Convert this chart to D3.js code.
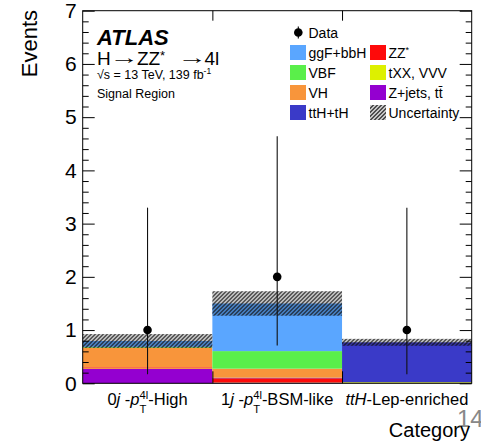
<!DOCTYPE html>
<html>
<head>
<meta charset="utf-8">
<script src="https://cdn.jsdelivr.net/npm/d3@7"></script>
<style>
  body { margin: 0; background: #fff; }
  svg text { font-family: "Liberation Sans", Arial, sans-serif; }
</style>
</head>
<body>
<div id="chart"></div>
<script>
// 类别与各过程的事件数 (自下而上堆叠)
const categories = ['0j-pT4l-High', '1j-pT4l-BSM-like', 'ttH-Lep-enriched'];
const zjets = [0.27, 0.01, 0.0];
const txx = [0.01, 0.005, 0.02];
const zz = [0.02, 0.08, 0.0];
const tth = [0.0, 0.01, 0.75];
const vh = [0.37, 0.17, 0.0];
const vbf = [0.015, 0.33, 0.0];
const ggf = [0.11, 0.895, 0.0];
const uncert = [0.13, 0.23, 0.065];
const dataCounts = [1, 2, 1];
const dataErrLo = [0.83, 1.29, 0.83];
const dataErrHi = [2.30, 2.64, 2.30];
const yTicks = [0, 1, 2, 3, 4, 5, 6, 7];

const processes = [
    {key: 'zjets', label: 'Z+jets, tt̄', values: zjets, color: '#9400d0'},
    {key: 'txx', label: 'tXX, VVV', values: txx, color: '#ddf000'},
    {key: 'zz', label: 'ZZ*', values: zz, color: '#fe0a0a'},
    {key: 'tth', label: 'ttH+tH', values: tth, color: '#3a3ac8'},
    {key: 'vh', label: 'VH', values: vh, color: '#f8953b'},
    {key: 'vbf', label: 'VBF', values: vbf, color: '#5aef4a'},
    {key: 'ggf', label: 'ggF+bbH', values: ggf, color: '#5aa6ff'}
];

// 画布设置
const W = 481, H = 444;
const margin = {top: 10.7, right: 9.3, bottom: 60.7, left: 82.7};
const width = W - margin.left - margin.right;
const height = H - margin.top - margin.bottom;

const root = d3.select('#chart').append('svg').attr('width', W).attr('height', H);
const defs = root.append('defs');
const pat = defs.append('pattern').attr('id', 'hatch').attr('patternUnits', 'userSpaceOnUse')
    .attr('width', 4).attr('height', 4);
pat.append('path').attr('d', 'M-1,1 l2,-2 M0,4 l4,-4 M3,5 l2,-2')
    .attr('stroke', '#111').attr('stroke-width', 1.4);

const svg = root.append('g').attr('transform', 'translate(' + margin.left + ',' + margin.top + ')');

// 比例尺
const xScale = d3.scaleBand().domain(categories).range([0, width]).padding(0);
const xEdge = d3.scaleLinear().domain([0, categories.length]).range([0, width]);
const yScale = d3.scaleLinear().domain([0, 7]).range([height, 0]);

// 堆叠
const table = categories.map(function (c, i) {
    const row = {cat: c};
    processes.forEach(function (p) { row[p.key] = p.values[i]; });
    return row;
});
const stack = d3.stack().keys(processes.map(function (p) { return p.key; }));
const layers = stack(table);

svg.selectAll('.layer').data(layers).enter().append('g')
    .attr('fill', function (d, i) { return processes[i].color; })
    .selectAll('rect').data(function (d) { return d; }).enter().append('rect')
    .attr('x', function (d) { return xScale(d.data.cat); })
    .attr('width', xScale.bandwidth())
    .attr('y', function (d) { return yScale(d[1]); })
    .attr('height', function (d) { return yScale(d[0]) - yScale(d[1]); });

// 不确定性阴影
const totals = table.map(function (r) {
    return d3.sum(processes, function (p) { return r[p.key]; });
});
svg.append('g').selectAll('rect').data(categories).enter().append('rect')
    .attr('x', function (d) { return xScale(d); })
    .attr('width', xScale.bandwidth())
    .attr('y', function (d, i) { return yScale(totals[i] + uncert[i]); })
    .attr('height', function (d, i) { return yScale(totals[i] - uncert[i]) - yScale(totals[i] + uncert[i]); })
    .attr('fill', 'url(#hatch)');

// 数据点
const pts = svg.append('g').selectAll('g').data(categories).enter().append('g');
pts.append('line')
    .attr('x1', function (d) { return xScale(d) + xScale.bandwidth() / 2; })
    .attr('x2', function (d) { return xScale(d) + xScale.bandwidth() / 2; })
    .attr('y1', function (d, i) { return yScale(dataCounts[i] - dataErrLo[i]); })
    .attr('y2', function (d, i) { return yScale(dataCounts[i] + dataErrHi[i]); })
    .attr('stroke', '#111').attr('stroke-width', 1.1);
pts.append('circle')
    .attr('cx', function (d) { return xScale(d) + xScale.bandwidth() / 2; })
    .attr('cy', function (d, i) { return yScale(dataCounts[i]); })
    .attr('r', 4.3).attr('fill', '#000');

// 坐标轴
const minor = d3.range(0, 7.001, 0.2).filter(function (v) { return Math.abs(v - Math.round(v)) > 0.01; });
svg.append('g').call(d3.axisLeft(yScale).tickValues(yTicks).tickFormat(d3.format('d'))
    .tickSizeInner(-12).tickSizeOuter(0).tickPadding(6))
    .call(function (g) { g.select('.domain').remove(); })
    .selectAll('text').style('font-size', '21px').attr('fill', '#000');
svg.append('g').call(d3.axisLeft(yScale).tickValues(minor).tickFormat('').tickSizeInner(-6).tickSizeOuter(0))
    .call(function (g) { g.select('.domain').remove(); });
svg.append('g').attr('transform', 'translate(' + width + ',0)')
    .call(d3.axisRight(yScale).tickValues(yTicks).tickFormat('').tickSizeInner(-12).tickSizeOuter(0))
    .call(function (g) { g.select('.domain').remove(); });
svg.append('g').attr('transform', 'translate(' + width + ',0)')
    .call(d3.axisRight(yScale).tickValues(minor).tickFormat('').tickSizeInner(-6).tickSizeOuter(0))
    .call(function (g) { g.select('.domain').remove(); });
svg.append('g').attr('transform', 'translate(0,' + height + ')')
    .call(d3.axisBottom(xEdge).tickValues([1, 2]).tickFormat('').tickSizeInner(-12).tickSizeOuter(0))
    .call(function (g) { g.select('.domain').remove(); });
svg.append('g')
    .call(d3.axisTop(xEdge).tickValues([1, 2]).tickFormat('').tickSizeInner(-10).tickSizeOuter(0))
    .call(function (g) { g.select('.domain').remove(); });
svg.selectAll('.tick line').attr('stroke', '#000');

svg.append('rect').attr('width', width).attr('height', height)
    .attr('fill', 'none').attr('stroke', '#000').attr('stroke-width', 1);

// 带上下标的文字
function richText(parent, segs, cx, baseline, size) {
    const g = parent.append('g');
    let x = 0;
    const small = size * 0.68;
    segs.forEach(function (s) {
        if (s.sup !== undefined) {
            const a = g.append('text').attr('x', x).attr('y', baseline - size * 0.4)
                .style('font-size', small + 'px').text(s.sup);
            const b = g.append('text').attr('x', x).attr('y', baseline + size * 0.46)
                .style('font-size', small + 'px').text(s.sub);
            x += Math.max(a.node().getComputedTextLength(), b.node().getComputedTextLength());
        } else {
            const t = g.append('text').attr('x', x).attr('y', baseline)
                .style('font-size', size + 'px').style('font-style', s.it ? 'italic' : 'normal')
                .attr('xml:space', 'preserve').text(s.t);
            x += t.node().getComputedTextLength();
        }
    });
    g.attr('transform', 'translate(' + (cx - x / 2) + ',0)');
    return g;
}

const labelSegs = [
    [{t: '0'}, {t: 'j', it: true}, {t: ' -'}, {t: 'p', it: true}, {sup: '4l', sub: 'T'}, {t: '-High'}],
    [{t: '1'}, {t: 'j', it: true}, {t: ' -'}, {t: 'p', it: true}, {sup: '4l', sub: 'T'}, {t: '-BSM-like'}],
    [{t: 'ttH', it: true}, {t: '-Lep-enriched'}]
];
categories.forEach(function (c, i) {
    richText(svg, labelSegs[i], xScale(c) + xScale.bandwidth() / 2, height + 22, 16.5);
});

// 轴标题
root.append('text').attr('transform', 'translate(36.7,10) rotate(-90)')
    .attr('text-anchor', 'end').style('font-size', '22px').text('Events');
root.append('text').attr('x', 457).attr('y', 427).style('font-size', '24px')
    .attr('fill', '#888').text('14');
root.append('text').attr('x', 470).attr('y', 437).attr('text-anchor', 'end')
    .style('font-size', '20px').text('Category');

// ATLAS 标注
root.append('text').attr('x', 97).attr('y', 45).style('font-size', '22px')
    .style('font-weight', 'bold').style('font-style', 'italic').text('ATLAS');
const proc = root.append('g');
proc.append('text').attr('x', 97).attr('y', 65).style('font-size', '19px').text('H');
proc.append('text').attr('transform', 'translate(109.5,64) scale(1.55,1)').style('font-size', '19px').text('→');
proc.append('text').attr('x', 137).attr('y', 65).style('font-size', '19px').text('ZZ');
proc.append('text').attr('x', 160).attr('y', 60).style('font-size', '13px').text('*');
proc.append('text').attr('transform', 'translate(177.5,64) scale(1.55,1)').style('font-size', '19px').text('→');
proc.append('text').attr('x', 204.5).attr('y', 65).style('font-size', '19px').text('4l');
const lumi = root.append('text').attr('x', 97).attr('y', 79).style('font-size', '12.5px');
lumi.append('tspan').text('√s = 13 TeV, 139 fb');
lumi.append('tspan').attr('dy', -5).style('font-size', '8.5px').text('-1');
root.append('text').attr('x', 97).attr('y', 98).style('font-size', '12.5px').text('Signal Region');

// 图例
const legend = root.append('g');
legend.append('line').attr('x1', 298.3).attr('x2', 298.3).attr('y1', 26.5).attr('y2', 38.5)
    .attr('stroke', '#000').attr('stroke-width', 1.1);
legend.append('circle').attr('cx', 298.3).attr('cy', 32.5).attr('r', 4.3).attr('fill', '#000');
legend.append('text').attr('x', 308.5).attr('y', 37.5).style('font-size', '14px').text('Data');

const legendItems = [
    {col: 0, row: 0, p: 'ggf'}, {col: 0, row: 1, p: 'vbf'}, {col: 0, row: 2, p: 'vh'}, {col: 0, row: 3, p: 'tth'},
    {col: 1, row: 0, p: 'zz'}, {col: 1, row: 1, p: 'txx'}, {col: 1, row: 2, p: 'zjets'}, {col: 1, row: 3, p: 'unc'}
];
const li = legend.selectAll('.item').data(legendItems).enter().append('g')
    .attr('transform', function (d) { return 'translate(' + (d.col ? 370 : 290) + ',' + (52.5 + d.row * 20) + ')'; });
li.append('rect').attr('x', 0).attr('y', -7.5).attr('width', 16).attr('height', 15)
    .attr('fill', function (d) {
        if (d.p === 'unc') return 'url(#hatch)';
        return processes.find(function (p) { return p.key === d.p; }).color;
    });
const lt = li.append('text').attr('x', 18.5).attr('y', 5).style('font-size', '14px');
lt.each(function (d) {
    const t = d3.select(this);
    if (d.p === 'unc') { t.text('Uncertainty'); return; }
    if (d.p === 'zz') {
        t.append('tspan').text('ZZ');
        t.append('tspan').attr('dy', -5).style('font-size', '9px').text('*');
        return;
    }
    t.text(processes.find(function (p) { return p.key === d.p; }).label);
});
</script>
</body>
</html>
